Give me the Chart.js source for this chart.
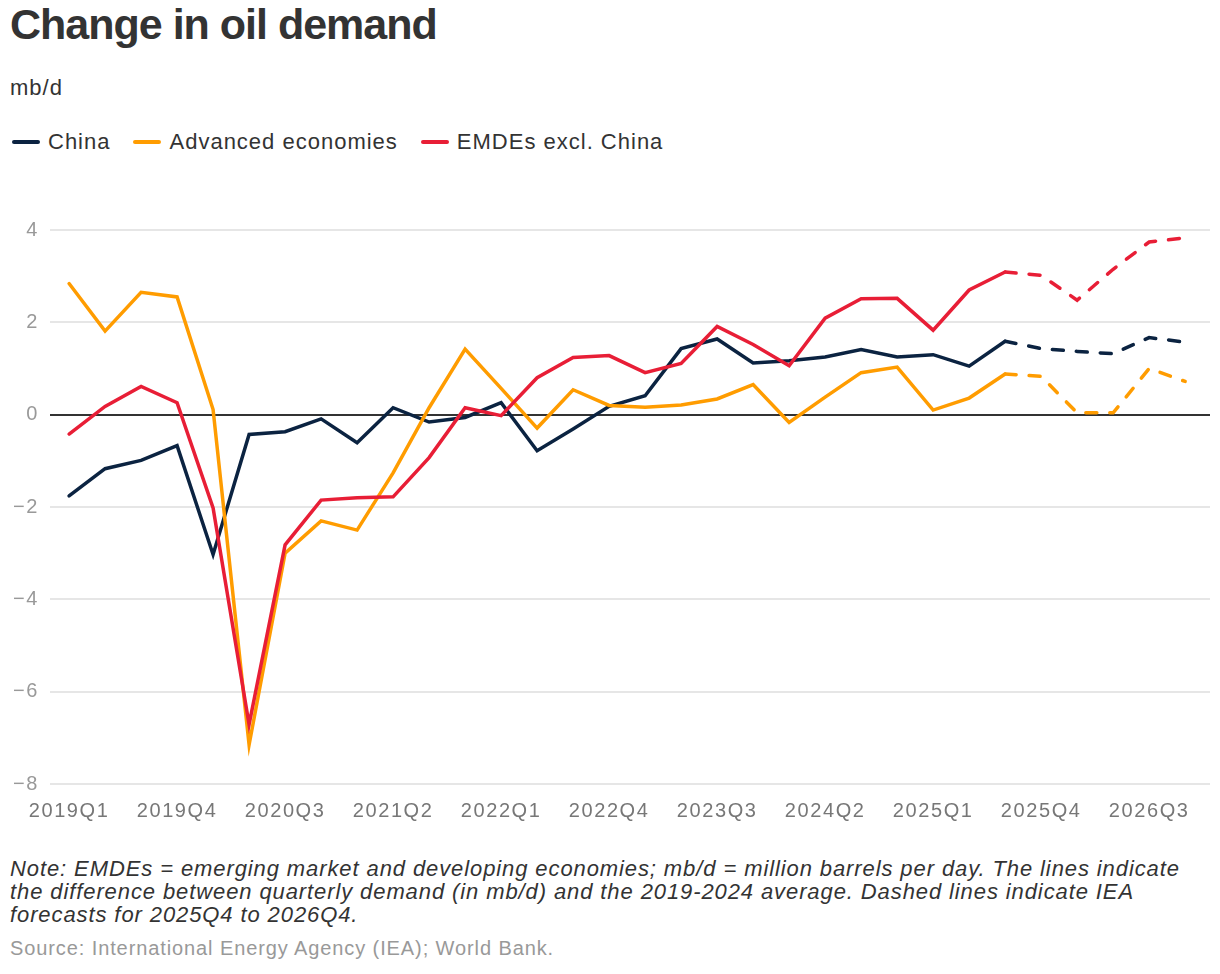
<!DOCTYPE html>
<html>
<head>
<meta charset="utf-8">
<script src="https://cdn.jsdelivr.net/npm/chart.js@4"></script>
<style>
  body { margin: 0; background: #fff; font-family: "Liberation Sans", Arial, sans-serif; color: #333; }
  #page { position: relative; width: 1220px; height: 974px; overflow: hidden; }
  #title { position: absolute; left: 10px; top: 0px; font-size: 43px; font-weight: bold; letter-spacing: -1px; color: #333; }
  #unit { position: absolute; left: 10px; top: 75px; font-size: 22px; letter-spacing: 1px; color: #333; }
  #legend { position: absolute; left: 12px; top: 129px; font-size: 22px; letter-spacing: 1px; color: #333; display: flex; }
  .item { display: flex; align-items: center; margin-right: 23px; }
  .swatch { width: 28px; height: 4px; border-radius: 2px; margin-right: 8px; }
  #wrap { position: absolute; left: 0; top: 200px; width: 1220px; height: 640px; }
  #note { position: absolute; left: 10px; top: 857px; width: 1205px; font-size: 22px; letter-spacing: 0.9px; font-style: italic; line-height: 23px; color: #333; }
  #source { position: absolute; left: 10px; top: 937px; font-size: 20px; letter-spacing: 0.9px; color: #999; }
</style>
</head>
<body>
<div id="page">
  <div id="title">Change in oil demand</div>
  <div id="unit">mb/d</div>
  <div id="legend"></div>
  <div id="wrap"><canvas id="chart"></canvas></div>
  <div id="note">Note: EMDEs = emerging market and developing economies; mb/d = million barrels per day. The lines indicate the difference between quarterly demand (in mb/d) and the 2019-2024 average. Dashed lines indicate IEA forecasts for 2025Q4 to 2026Q4.</div>
  <div id="source">Source: International Energy Agency (IEA); World Bank.</div>
</div>
<script>
const quarters = [
  '2019Q1','2019Q2','2019Q3','2019Q4','2020Q1','2020Q2','2020Q3','2020Q4',
  '2021Q1','2021Q2','2021Q3','2021Q4','2022Q1','2022Q2','2022Q3','2022Q4',
  '2023Q1','2023Q2','2023Q3','2023Q4','2024Q1','2024Q2','2024Q3','2024Q4',
  '2025Q1','2025Q2','2025Q3','2025Q4','2026Q1','2026Q2','2026Q3','2026Q4'
];
const china = [
  -1.76, -1.17, -0.99, -0.67, -3.03, -0.43, -0.37, -0.09,
  -0.61, 0.15, -0.16, -0.06, 0.26, -0.78, -0.31, 0.18,
  0.41, 1.43, 1.64, 1.12, 1.17, 1.25, 1.41, 1.25,
  1.30, 1.05, 1.59, 1.43, 1.37, 1.32, 1.67, 1.57
];
const advanced = [
  2.84, 1.81, 2.65, 2.55, 0.11, -7.15, -3.0, -2.3,
  -2.5, -1.26, 0.15, 1.42, 0.57, -0.29, 0.54, 0.2,
  0.16, 0.21, 0.34, 0.65, -0.17, 0.38, 0.91, 1.03,
  0.1, 0.36, 0.88, 0.83, 0.04, 0.04, 1.0, 0.72
];
const emdes = [
  -0.42, 0.18, 0.61, 0.26, -2.02, -6.71, -2.82, -1.85,
  -1.8, -1.78, -0.93, 0.15, -0.02, 0.8, 1.24, 1.28,
  0.91, 1.11, 1.91, 1.52, 1.06, 2.09, 2.51, 2.52,
  1.83, 2.70, 3.09, 3.02, 2.48, 3.15, 3.74, 3.83
];
const forecastStart = 27; // 2025Q4
const xTicks = [0, 3, 6, 9, 12, 15, 18, 21, 24, 27, 30];
const yTicks = [-8, -6, -4, -2, 0, 2, 4];

const series = [
  { label: 'China', values: china, color: '#0b2341', order: 3 },
  { label: 'Advanced economies', values: advanced, color: '#ff9c00', order: 2 },
  { label: 'EMDEs excl. China', values: emdes, color: '#e81e36', order: 1 }
];

// html legend
const legend = document.getElementById('legend');
series.forEach(s => {
  const item = document.createElement('div');
  item.className = 'item';
  item.innerHTML = `<span class="swatch" style="background:${s.color}"></span>${s.label}`;
  legend.appendChild(item);
});

const datasets = series.map(s => ({
  label: s.label,
  data: s.values.map((v, i) => ({ x: i, y: v })),
  borderColor: s.color,
  backgroundColor: s.color,
  borderWidth: 3.5,
  borderCapStyle: 'round',
  pointRadius: 0,
  tension: 0,
  order: s.order,
  segment: {
    borderDash: ctx => ctx.p1DataIndex >= forecastStart ? [11, 13] : undefined
  }
}));

// the reference text is a little wider spaced than the default canvas text
const spacing = {
  id: 'spacing',
  beforeUpdate: chart => { chart.ctx.letterSpacing = '1.6px'; },
  beforeDraw: chart => { chart.ctx.letterSpacing = '1.6px'; }
};

new Chart(document.getElementById('chart').getContext('2d'), {
  type: 'line',
  data: { datasets: datasets },
  plugins: [spacing],
  options: {
    responsive: true,
    maintainAspectRatio: false,
    animation: false,
    layout: { padding: { top: 30, right: 10, left: 0, bottom: 0 } },
    plugins: { legend: { display: false }, tooltip: { enabled: false } },
    scales: {
      x: {
        type: 'linear',
        min: -0.53,
        max: 31.69,
        afterBuildTicks: scale => { scale.ticks = xTicks.map(v => ({ value: v })); },
        afterFit: scale => { scale.height = 56; },
        grid: { display: false },
        border: { display: false },
        ticks: {
          autoSkip: false,
          maxRotation: 0,
          padding: 7,
          color: '#777',
          font: { family: 'Liberation Sans', size: 20 },
          callback: v => quarters[v]
        }
      },
      y: {
        min: -8,
        max: 4,
        afterBuildTicks: scale => { scale.ticks = yTicks.map(v => ({ value: v })); },
        afterFit: scale => { scale.width = 50; },
        border: { display: false },
        grid: {
          drawTicks: false,
          lineWidth: 2,
          color: ctx => ctx.tick && ctx.tick.value === 0 ? '#333' : '#e6e6e6'
        },
        ticks: {
          padding: 11,
          color: '#999',
          font: { family: 'Liberation Sans', size: 20 },
          callback: v => String(v).replace('-', '\u2212')
        }
      }
    }
  }
});
</script>
</body>
</html>
